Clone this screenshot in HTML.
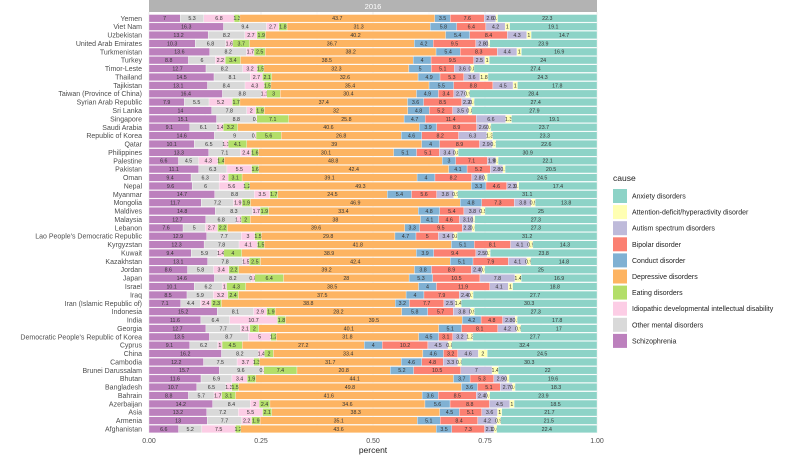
<!DOCTYPE html>
<html><head><meta charset="utf-8"><style>
body{margin:0;background:#fff;}
svg{display:block;font-family:"Liberation Sans",sans-serif;}
</style></head><body>
<svg id="chart" width="790" height="456">
<rect x="149" y="0" width="448" height="12" fill="#b3b3b3"/>
<text x="373" y="9" font-size="7.5" fill="#fff" text-anchor="middle">2016</text>
<rect x="149" y="12" width="448" height="421" fill="#fff"/>
<g id="grid"></g><g id="bars"></g><g id="labels"></g><g id="axis"></g>
<text x="373" y="453" font-size="8.5" fill="#222" text-anchor="middle">percent</text>
<text x="613" y="181" font-size="8.5" fill="#222">cause</text>
<g id="legend"></g>
</svg>
<script>
const countries=["Yemen","Viet Nam","Uzbekistan","United Arab Emirates","Turkmenistan","Turkey","Timor-Leste","Thailand","Tajikistan","Taiwan (Province of China)","Syrian Arab Republic","Sri Lanka","Singapore","Saudi Arabia","Republic of Korea","Qatar","Philippines","Palestine","Pakistan","Oman","Nepal","Myanmar","Mongolia","Maldives","Malaysia","Lebanon","Lao People's Democratic Republic","Kyrgyzstan","Kuwait","Kazakhstan","Jordan","Japan","Israel","Iraq","Iran (Islamic Republic of)","Indonesia","India","Georgia","Democratic People's Republic of Korea","Cyprus","China","Cambodia","Brunei Darussalam","Bhutan","Bangladesh","Bahrain","Azerbaijan","Asia","Armenia","Afghanistan"];
const stackCauses=["Schizophrenia","Other mental disorders","Idiopathic developmental intellectual disability","Eating disorders","Depressive disorders","Conduct disorder","Bipolar disorder","Autism spectrum disorders","Attention-deficit/hyperactivity disorder","Anxiety disorders"];
const colors=["#bc80bd","#d9d9d9","#fccde5","#b3de69","#fdb462","#80b1d3","#fb8072","#bebada","#ffffb3","#8dd3c7"];
const legendCauses=["Anxiety disorders","Attention-deficit/hyperactivity disorder","Autism spectrum disorders","Bipolar disorder","Conduct disorder","Depressive disorders","Eating disorders","Idiopathic developmental intellectual disability","Other mental disorders","Schizophrenia"];
const values=[
[7,5.3,6.8,1.3,43.7,3.5,7.6,2.6,0.4,22.3],
[16.3,9.4,2.7,1.8,31.3,5.8,6.4,4.2,1,19.1],
[13.2,8.2,2.7,1.9,40.2,5.4,8.4,4.3,1,14.7],
[10.3,6.8,1.6,3.7,36.7,4.2,9.5,2.8,0.3,23.9],
[13.6,8.2,1.7,2.5,38.2,5.4,8.3,4.4,1,16.9],
[8.8,6,2.2,3.4,38.5,4,9.5,2.5,1,24],
[12.7,8.2,3.2,1.5,32.3,5,5.1,3.6,0.8,27.4],
[14.5,8.1,2.7,2.1,32.6,4.9,5.3,3.6,1.8,24.3],
[13.1,8.4,4.3,1.5,35.4,5.5,8.8,4.5,1,17.8],
[16.4,8.8,1.1,3,30.4,4.9,3.4,2.7,0.9,28.4],
[7.9,5.5,5.2,1.7,37.4,3.6,8.5,2.2,0.6,27.4],
[14,7.8,2,1.9,32,4.8,5.2,3.5,0.8,27.9],
[15.1,8.8,0.2,7.1,25.8,4.7,11.4,6.6,1.3,19.1],
[9.1,6.1,1.4,3.2,40.6,3.9,8.9,2.6,0.6,23.7],
[14.6,9,0.3,5.6,26.8,4.6,8.2,6.3,1.3,23.3],
[10.1,6.5,1.1,4.1,39,4,8.9,2.9,0.7,22.6],
[13.3,7.1,2.4,1.6,30.1,5.1,5.1,3.4,0.8,30.9],
[6.6,4.5,4.3,1.4,48.8,3,7.1,1.9,0.5,22.1],
[11.1,6.3,5.5,1.6,42.4,4.1,5.2,2.8,0.5,20.5],
[9.4,6.3,2,3.1,39.1,4,8.2,2.8,0.7,24.5],
[9.6,6,5.6,1.2,49.3,3.3,4.6,2.3,0.4,17.4],
[14.7,8.8,3.5,1.7,24.5,5.4,5.6,3.8,0.9,31.1],
[11.7,7.2,1.9,1.9,46.9,4.8,7.3,3.8,0.9,13.8],
[14.8,8.3,1.7,1.9,33.4,4.8,5.4,3.8,0.9,25],
[12.7,6.8,1.1,2,38,4.1,4.6,3.1,0.3,27.3],
[7.6,5,2.7,2.2,39.6,3.3,9.5,2.2,0.6,27.3],
[12.9,7.7,3,1.5,29.8,4.7,5,3.4,0.8,31.2],
[12.3,7.8,4.1,1.5,41.8,5.1,8.1,4.1,0.9,14.3],
[9.4,5.9,1.4,4,38.9,3.9,9.4,2.5,0.7,23.8],
[13.1,7.8,1.5,2.5,42.4,5.1,7.9,4.1,0.9,14.8],
[8.6,5.8,3.4,2.2,39.2,3.8,8.9,2.4,0.6,25],
[14.6,8.2,0.8,6.4,28,5.3,10.5,7.8,1.4,16.9],
[10.1,6.2,1,4.3,38.5,4,11.9,4.1,1,18.8],
[8.5,5.9,3.2,2.4,37.5,4,7.9,2.4,0.7,27.7],
[7.1,4.4,2.4,2.3,38.8,3.2,7.7,2.5,1.4,30.3],
[15.2,8.1,2.9,1.9,28.2,5.8,5.7,3.8,0.9,27.3],
[11.6,6.4,10.7,1.8,39.5,4.2,4.8,2.8,0.5,17.8],
[12.7,7.7,2.1,2,40.1,5.1,8.1,4.2,0.9,17],
[13.5,8.7,5,1.2,31.8,4.5,3.1,3.2,1.3,27.7],
[9.1,6.2,1,4.5,27.2,4,10.2,4.5,0.8,32.4],
[16.2,8.2,1.4,2,33.4,4.6,3.2,4.6,2,24.5],
[12.2,7.5,3.7,1.3,31.7,4.6,4.8,3.3,0.8,30.3],
[15.7,9.6,0.3,7.4,20.8,5.2,10.5,7,1.4,22],
[11.6,6.9,3.4,1.9,44.1,3.7,5.3,2.9,0.5,19.6],
[10.7,6.5,1.3,1.5,49.8,3.6,5.1,2.7,0.6,18.3],
[8.8,5.7,1.7,3.1,41.6,3.6,8.5,2.4,0.6,23.9],
[14.2,8.4,2,2.4,34.6,5.6,8.8,4.5,1,18.5],
[13.2,7.2,5.5,2.1,38.3,4.5,5.1,3.6,1,21.7],
[13,7.7,2.2,1.9,35.1,5.1,8.4,4.2,0.9,21.5],
[6.6,5.2,7.5,1.2,43.6,3.5,7.3,2.1,0.6,22.4]];
const xTicks=[0,0.25,0.5,0.75,1];
const xTickLabels=["0.00","0.25","0.50","0.75","1.00"];

const NS="http://www.w3.org/2000/svg";
const X0=149,X1=597;
const xScale=v=>X0+(X1-X0)*v;
const Y0=18.3,STEP=(429-18.3)/(countries.length-1);
const yScale=i=>Y0+STEP*i;
const BH=STEP*0.9;
function mk(tag,attrs,parent){const e=document.createElementNS(NS,tag);for(const k in attrs)e.setAttribute(k,attrs[k]);parent.appendChild(e);return e;}
const grid=document.getElementById('grid'),bars=document.getElementById('bars'),labels=document.getElementById('labels'),axis=document.getElementById('axis'),legend=document.getElementById('legend');
for(let t=0;t<=1.0001;t+=0.125){const major=Math.abs(t*4-Math.round(t*4))<1e-6;
const l=mk('line',{x1:xScale(t),x2:xScale(t),y1:12,y2:433,stroke:major?'#e0e0e0':'#f0f0f0','stroke-width':major?0.6:0.4},grid);

}
countries.forEach((c,i)=>{const l=mk('line',{x1:X0,x2:X1,y1:yScale(i),y2:yScale(i),stroke:'#e0e0e0','stroke-width':0.6},grid);

});
countries.forEach((c,i)=>{
 const row=values[i];const tot=row.reduce((a,b)=>a+b,0);let cum=0;
 const lab=mk('text',{x:142,y:yScale(i)+2.5,'font-size':7,fill:'#4d4d4d','text-anchor':'end'},labels);
 lab.textContent=c;
 
 
 row.forEach((v,j)=>{
  const xa=xScale(cum/tot),xb=xScale((cum+v)/tot);cum+=v;
  const r=mk('rect',{x:xa,y:yScale(i)-BH/2,width:Math.max(0,xb-xa),height:BH,fill:colors[j],stroke:'#fff','stroke-width':0.3},bars);
  
  
  const t=mk('text',{x:(xa+xb)/2,y:yScale(i)+1.9,'font-size':5.3,fill:'#333','text-anchor':'middle'},bars);
  t.textContent=String(v);
  
  
 });
});
xTicks.forEach((t,k)=>{
 const tl=mk('text',{x:xScale(t),y:443,'font-size':7,fill:'#4d4d4d','text-anchor':'middle'},axis);
 tl.textContent=xTickLabels[k];
 
 
});
legendCauses.forEach((c,k)=>{
 const j=stackCauses.indexOf(c);const cy=196+16.1*k;
 const r=mk('rect',{x:613,y:cy-7,width:14,height:14,fill:colors[j]},legend);
 
 
 const t=mk('text',{x:632,y:cy+2.5,'font-size':7,fill:'#222'},legend);
 t.textContent=c;
 
 
});
</script>
</body></html>
